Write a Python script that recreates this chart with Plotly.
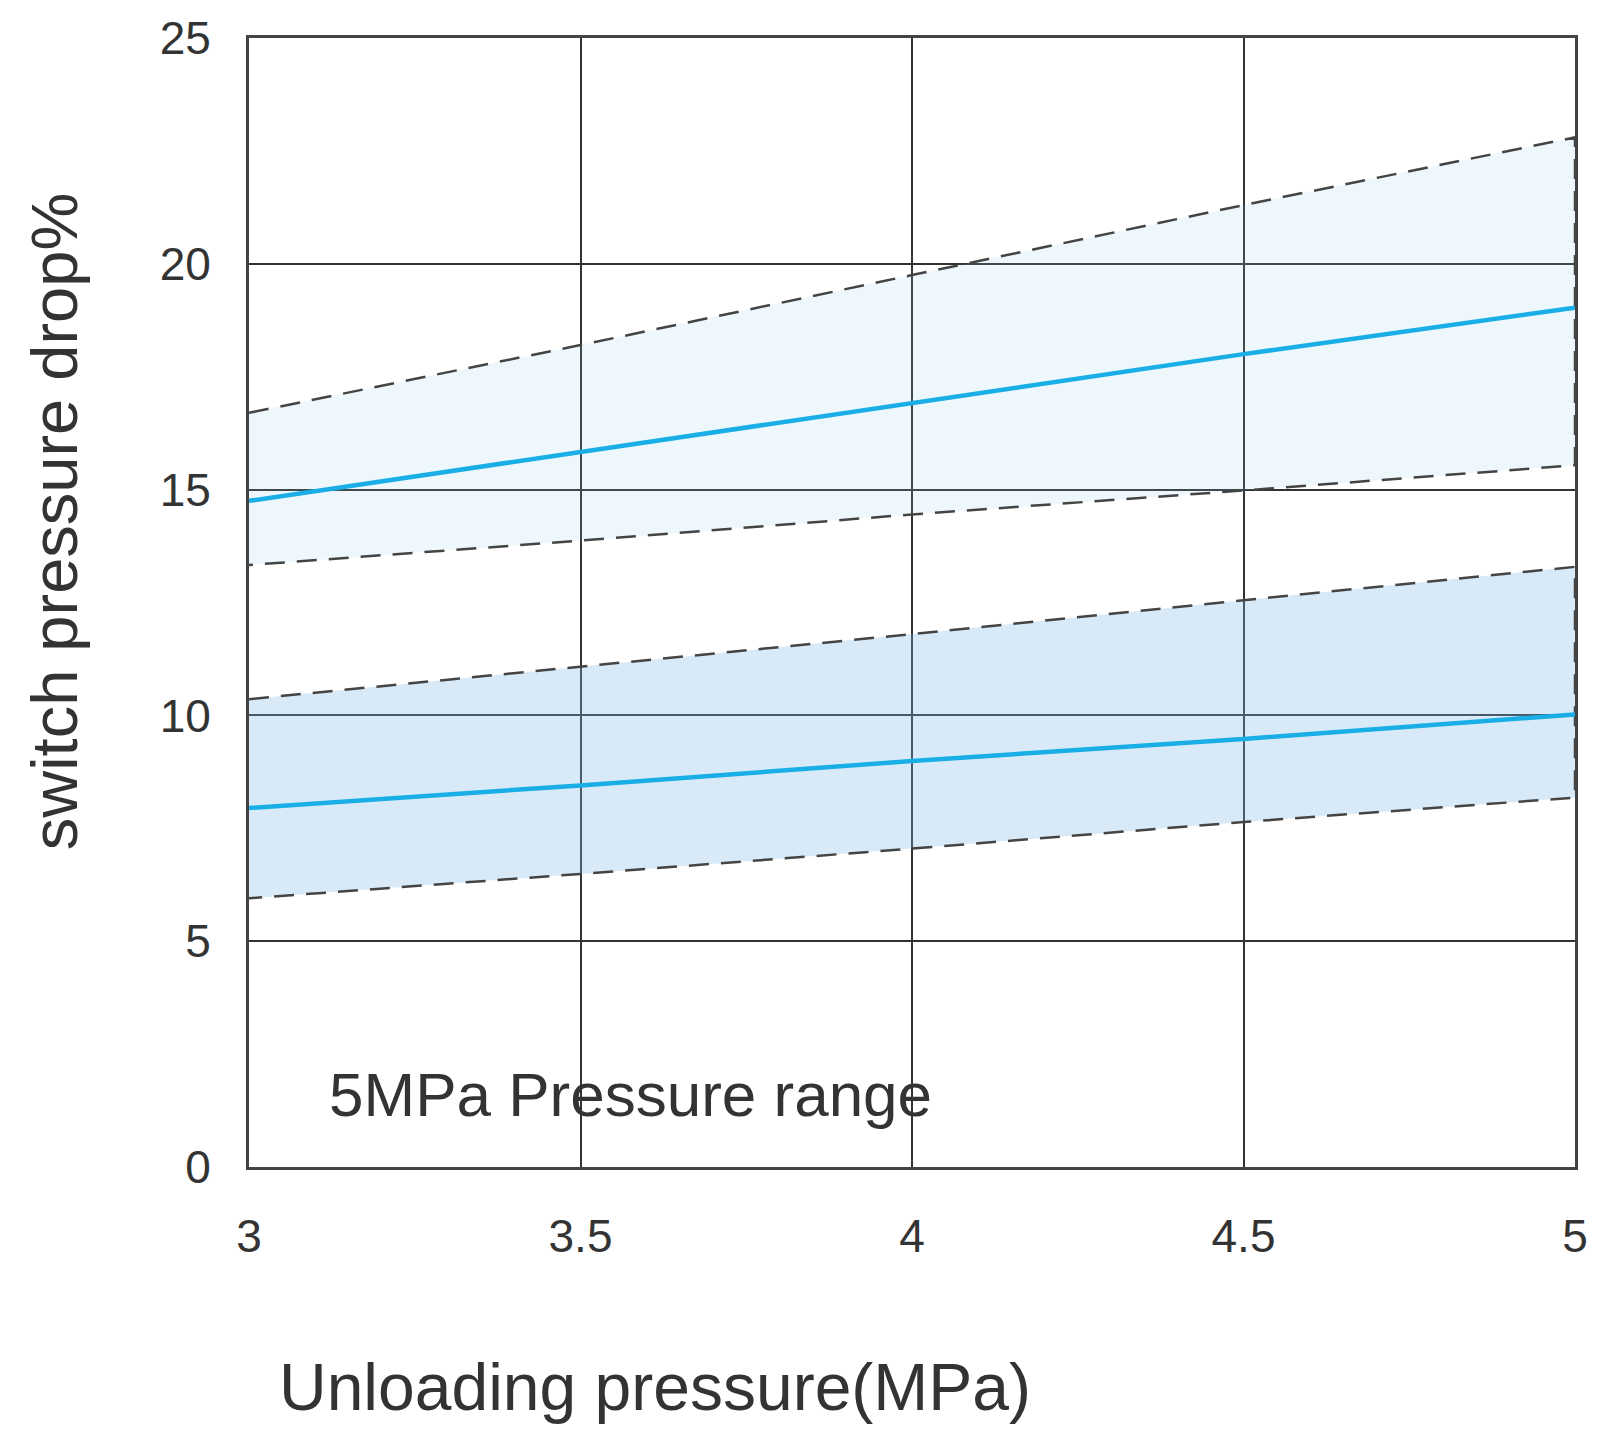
import plotly.graph_objects as go

x = [3.0, 3.5, 4.0, 4.5, 5.0]

# upper band (switch pressure drop %)
upper_hi = [16.7, 18.2, 19.75, 21.3, 22.8]
upper_mid = [14.75, 15.83, 16.9, 18.0, 19.03]
upper_lo = [13.33, 13.87, 14.45, 14.98, 15.54]

# lower band
lower_hi = [10.36, 11.08, 11.8, 12.55, 13.29]
lower_mid = [7.95, 8.45, 8.99, 9.48, 10.02]
lower_lo = [5.95, 6.49, 7.05, 7.64, 8.18]

x_ticks = [3, 3.5, 4, 4.5, 5]
x_tick_text = ["3", "3.5", "4", "4.5", "5"]
y_ticks = [0, 5, 10, 15, 20, 25]

FONT = "Liberation Sans, Arial, sans-serif"
DASH_COLOR = "#444444"
BLUE = "#19aee6"
TEXT = "#333333"

fig = go.Figure()

# upper band polygon
fig.add_trace(go.Scatter(
    x=x + x[::-1], y=upper_hi + upper_lo[::-1],
    mode="lines", fill="toself", fillcolor="rgba(142,208,235,0.15)",
    line=dict(color=DASH_COLOR, width=2.5, dash="20px,12px"),
    hoverinfo="skip", showlegend=False))

# lower band polygon
fig.add_trace(go.Scatter(
    x=x + x[::-1], y=lower_hi + lower_lo[::-1],
    mode="lines", fill="toself", fillcolor="rgba(125,185,228,0.3)",
    line=dict(color=DASH_COLOR, width=2.5, dash="20px,12px"),
    hoverinfo="skip", showlegend=False))

fig.add_trace(go.Scatter(x=x, y=upper_mid, mode="lines",
                         line=dict(color=BLUE, width=4.5), showlegend=False))
fig.add_trace(go.Scatter(x=x, y=lower_mid, mode="lines",
                         line=dict(color=BLUE, width=4.5), showlegend=False))

fig.add_annotation(x=3.576, y=1.61, xref="x", yref="y",
                   text="5MPa Pressure range", showarrow=False,
                   font=dict(family=FONT, size=62, color=TEXT),
                   xanchor="center", yanchor="middle")

fig.add_annotation(x=-0.147, y=0.572, xref="paper", yref="paper",
                   text="switch pressure drop%", showarrow=False, textangle=-90,
                   font=dict(family=FONT, size=65, color=TEXT),
                   xanchor="center", yanchor="middle")

fig.add_annotation(x=0.306, y=-0.195, xref="paper", yref="paper",
                   text="Unloading pressure(MPa)", showarrow=False,
                   font=dict(family=FONT, size=66, color=TEXT),
                   xanchor="center", yanchor="middle")

fig.update_xaxes(range=[3, 5], tickvals=x_ticks, ticktext=x_tick_text,
                 showgrid=True, gridcolor="#333333", gridwidth=2.2,
                 showline=True, linecolor="#444444", linewidth=3, mirror=True,
                 zeroline=False, ticks="", ticklabelstandoff=27,
                 tickfont=dict(family=FONT, size=46, color=TEXT))
fig.update_yaxes(range=[0, 25], tickvals=y_ticks,
                 showgrid=True, gridcolor="#333333", gridwidth=2.2,
                 showline=True, linecolor="#444444", linewidth=3, mirror=True,
                 zeroline=False, ticks="", ticklabelstandoff=26,
                 tickfont=dict(family=FONT, size=46, color=TEXT))

fig.update_layout(width=1600, height=1434,
                  margin=dict(l=249, r=21, t=33, b=267),
                  paper_bgcolor="white", plot_bgcolor="white")

fig.write_html("out.html", config={"displayModeBar": False},
               post_script="document.body.style.margin='0';document.body.style.overflow='hidden';")
